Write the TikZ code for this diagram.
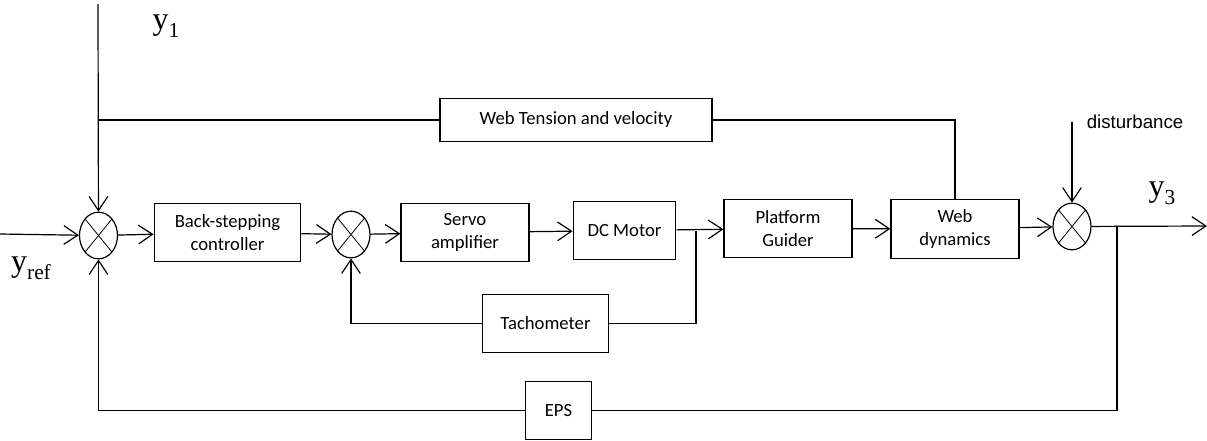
\documentclass[tikz,border=0pt]{standalone}
\usepackage{fontspec}
\setmainfont{Carlito}
\newfontfamily\serify{Liberation Serif}
\newfontfamily\sansd{Liberation Sans}
\usetikzlibrary{arrows.meta,positioning,calc,shapes.geometric}

\begin{document}
\begin{tikzpicture}[x=0.75pt,y=-0.75pt,line width=0.9pt,
  blk/.style={draw,minimum height=44pt,align=center,inner sep=2pt,font=\fontsize{14}{17}\selectfont},
  sumj/.style={draw,ellipse,minimum width=28.5pt,minimum height=35pt,inner sep=0pt,
    path picture={\draw[line width=0.6pt] (path picture bounding box.north west)--(path picture bounding box.south east)
      (path picture bounding box.north east)--(path picture bounding box.south west);}},
  arr/.style={-{Straight Barb[length=10.5pt,width=14pt,line width=0.9pt]}},
  sig/.style={font=\serify\fontsize{24}{26}\selectfont}]
\useasboundingbox (0,0) rectangle (1207,440);
% summing junctions
\node[sumj] (s1) at (98.5,235.5) {};
\node[sumj] (s2) at (351,234.5) {};
\node[sumj] (s3) at (1072,226.5) {};
% forward path blocks
\node[blk,minimum width=110pt] (bsc) at (227.5,232.5) {Back-stepping\\controller};
\node[blk,minimum width=96pt] (servo) at (465,232.5) {Servo\\amplifier};
\node[blk,minimum width=77pt] (dcm) at (624.5,230.5) {DC Motor};
\node[blk,minimum width=96pt] (plat) at (788,228.5) {Platform\\Guider};
\node[blk,minimum width=96pt] (webd) at (955,229) {Web\\dynamics};
% feedback blocks
\node[blk,minimum width=204pt,minimum height=32pt] (webt) at (576,120) {Web Tension and velocity};
\node[blk,minimum width=95pt] (tacho) at (545.5,323.5) {Tachometer};
\node[blk,minimum width=50pt] (eps) at (558.5,410.5) {EPS};
% signals
\node[sig] (y1) at (166,26) {y\raisebox{-6pt}{\fontsize{16}{18}\selectfont 1}};
\node[sig] (yref) at (31,268) {y\raisebox{-6pt}{\fontsize{16}{18}\selectfont ref}};
\node[sig] (y3) at (1162,193) {y\raisebox{-6pt}{\fontsize{16}{18}\selectfont 3}};
\node[font=\sansd\fontsize{14}{16}\selectfont] (dlab) at (1135,122) {disturbance};
\coordinate (yin) at (0,234);
\coordinate (ytop) at (98,4);
\coordinate (dtop) at (1072,122);
\coordinate (yout) at (1207,226);
\coordinate (b1) at (696,230.5);
\coordinate (b2) at (1117,226.5);
% forward path
\draw[arr] (yin) -- (s1);
\draw[arr] (s1) -- (bsc);
\draw[arr] (bsc) -- (s2);
\draw[arr] (s2) -- (servo);
\draw[arr] (servo) -- (dcm);
\draw[arr] (dcm) -- (plat);
\draw[arr] (plat) -- (webd);
\draw[arr] (webd) -- (s3);
\draw[arr] (s3) -- (yout);
\draw[arr] (dtop) -- (s3);
% loops
\draw[arr] (ytop) -- (s1);
\draw (webd.north) |- (webt.east);
\draw (webt.west) -- (webt.west -| ytop);
\draw (b1) |- (tacho.east);
\draw[arr] (tacho.west) -| (s2.south);
\draw (b2) |- (eps.east);
\draw[arr] (eps.west) -| (s1.south);
\end{tikzpicture}
\end{document}
